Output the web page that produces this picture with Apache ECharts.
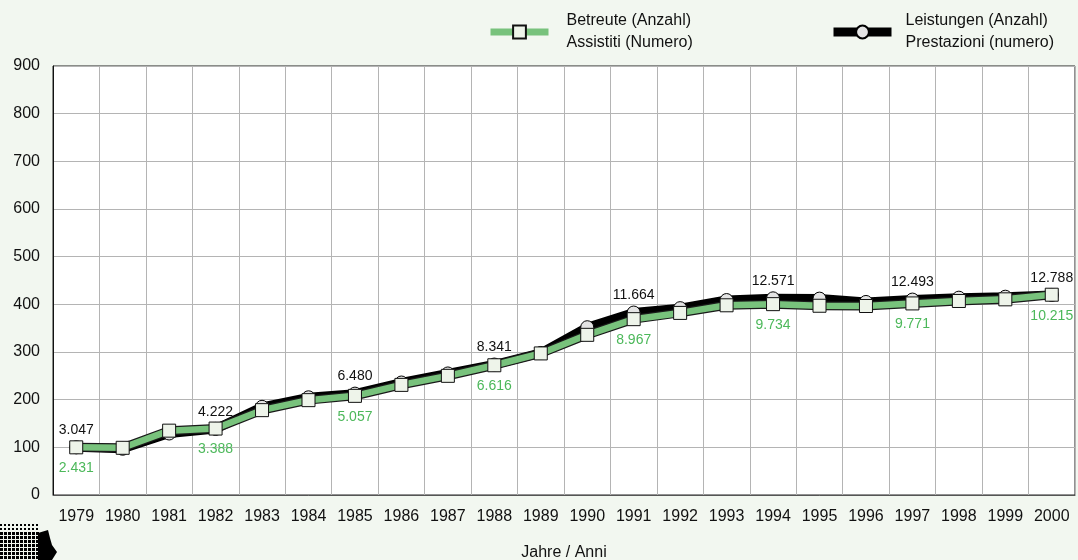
<!DOCTYPE html>
<html>
<head>
<meta charset="utf-8">
<script src="https://cdn.jsdelivr.net/npm/echarts@6/dist/echarts.min.js"></script>
<style>
  html, body { margin: 0; padding: 0; background: #f2f7f0; }
  #main { width: 1078px; height: 560px; }
</style>
</head>
<body>
<div id="main"></div>
<script>
// Jahre / Anni
const years = ['1979', '1980', '1981', '1982', '1983', '1984', '1985', '1986', '1987', '1988', '1989',
  '1990', '1991', '1992', '1993', '1994', '1995', '1996', '1997', '1998', '1999', '2000'];

// Index 1979 = 100
const betreuteIdx = [100, 99, 135, 139.4, 178, 199, 208, 231, 250, 272.2, 297,
  336, 368.9, 382, 398, 400.4, 397, 396.5, 401.9, 407, 410.5, 420.2];
const leistungenIdx = [100, 97, 129, 138.6, 185, 205, 212.7, 236, 255, 273.7, 298,
  352, 382.8, 392, 409, 412.6, 412, 405, 410, 414, 416, 419.7];

// Absolutwerte / valori assoluti (nur beschriftete Jahre)
const betreuteLabels = ['2.431', '', '', '3.388', '', '', '5.057', '', '', '6.616', '',
  '', '8.967', '', '', '9.734', '', '', '9.771', '', '', '10.215'];
const leistungenLabels = ['3.047', '', '', '4.222', '', '', '6.480', '', '', '8.341', '',
  '', '11.664', '', '', '12.571', '', '', '12.493', '', '', '12.788'];

const yTicks = [0, 100, 200, 300, 400, 500, 600, 700, 800, 900];

const nameBetreute = 'Betreute (Anzahl)\nAssistiti (Numero)';
const nameLeistungen = 'Leistungen (Anzahl)\nPrestazioni (numero)';

const font = 'Arial, "Liberation Sans", sans-serif';

// dotted pattern for the little logo
const dot = document.createElement('canvas');
dot.width = 4; dot.height = 4;
const dctx = dot.getContext('2d');
dctx.fillStyle = '#000';
dctx.fillRect(0, 0, 2, 2);
const dotBig = document.createElement('canvas');
dotBig.width = 4; dotBig.height = 4;
const bctx = dotBig.getContext('2d');
bctx.fillStyle = '#000';
bctx.fillRect(0, 0, 3, 3);

const myChart = echarts.init(document.getElementById('main'));

const option = {
  backgroundColor: '#f2f7f0',
  animation: false,
  textStyle: { fontFamily: font },
  legend: [
    {
      left: 487, top: 10, padding: 0,
      itemWidth: 58, itemHeight: 16,
      lineStyle: { width: 7 },
      textStyle: { fontFamily: font, fontSize: 16, color: '#111', lineHeight: 22, padding: [0, 0, 0, 13] },
      data: [nameBetreute]
    },
    {
      left: 829, top: 10, padding: 0,
      itemWidth: 58, itemHeight: 16,
      lineStyle: { width: 9 },
      textStyle: { fontFamily: font, fontSize: 16, color: '#111', lineHeight: 22, padding: [0, 0, 0, 9] },
      data: [nameLeistungen]
    }
  ],
  grid: {
    left: 53, right: 3, top: 66, bottom: 65,
    outerBoundsMode: 'none',
    show: true, backgroundColor: '#fff', borderColor: '#222', borderWidth: 1
  },
  xAxis: {
    type: 'category',
    data: years,
    boundaryGap: true,
    name: 'Jahre / Anni',
    nameLocation: 'middle',
    nameGap: 50,
    nameTextStyle: { fontSize: 16, color: '#111', fontFamily: font },
    axisLine: { lineStyle: { color: '#555', width: 1 } },
    axisTick: { show: false },
    axisLabel: { fontSize: 16, color: '#111', margin: 14, interval: 0 },
    splitLine: { show: true, lineStyle: { color: '#b4b4b4', width: 1 } }
  },
  yAxis: {
    type: 'value',
    min: yTicks[0],
    max: yTicks[yTicks.length - 1],
    interval: 100,
    axisLine: { show: true, lineStyle: { color: '#111' } },
    axisTick: { show: false },
    axisLabel: { fontSize: 16, color: '#111', margin: 13 },
    splitLine: { lineStyle: { color: '#b4b4b4', width: 1 } }
  },
  series: [
    {
      name: nameLeistungen,
      type: 'line',
      z: 2,
      data: leistungenIdx,
      symbol: 'circle',
      symbolSize: 13,
      lineStyle: { color: '#000', width: 9 },
      itemStyle: { color: '#e4e4e4', borderColor: '#000', borderWidth: 1 },
      label: {
        show: true,
        position: 'top',
        distance: 3,
        fontSize: 14,
        color: '#111',
        formatter: p => leistungenLabels[p.dataIndex]
      }
    },
    {
      // dark outline of the green line
      name: 'outline',
      type: 'line',
      z: 3,
      silent: true,
      data: betreuteIdx,
      symbol: 'none',
      lineStyle: { color: '#1a1a1a', width: 9 }
    },
    {
      name: nameBetreute,
      type: 'line',
      z: 4,
      data: betreuteIdx,
      symbol: 'rect',
      symbolSize: 13,
      lineStyle: { color: '#78c27c', width: 6.5 },
      itemStyle: { color: '#eef4ea', borderColor: '#111', borderWidth: 1 },
      label: {
        show: true,
        position: 'bottom',
        distance: 7,
        fontSize: 14,
        color: '#4cb85a',
        formatter: p => betreuteLabels[p.dataIndex]
      }
    }
  ],
  graphic: [
    {
      type: 'rect',
      shape: { x: 0, y: 522, width: 40, height: 10 },
      style: { fill: { image: dot, repeat: 'repeat' } }
    },
    {
      type: 'rect',
      shape: { x: 0, y: 532, width: 40, height: 28 },
      style: { fill: { image: dotBig, repeat: 'repeat' } }
    },
    {
      type: 'polygon',
      shape: { points: [[38, 533], [48, 530], [50, 538], [52, 545], [57, 552], [52, 560], [38, 560]] },
      style: { fill: '#000' }
    }
  ]
};

myChart.setOption(option);
window.addEventListener('resize', () => {
  myChart.resize();
});
</script>
</body>
</html>
